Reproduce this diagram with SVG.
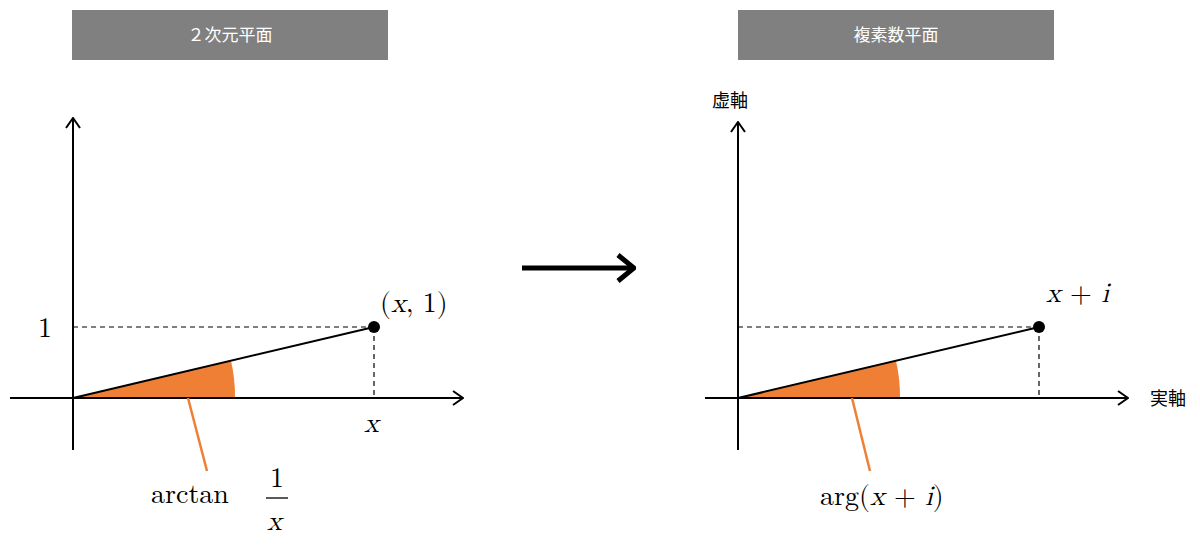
<svg xmlns="http://www.w3.org/2000/svg" width="1200" height="552" viewBox="0 0 1200 552">
<style>
.hdr{fill:#808080}
.ht{font-family:"Noto Sans CJK JP",sans-serif;font-size:17px;fill:#fff;text-anchor:middle}
.ax{stroke:#000;stroke-width:2;fill:none}
.ds{stroke:#000;stroke-width:1.2;stroke-dasharray:5,4;fill:none}
.m{font-family:"Latin Modern Math","DejaVu Serif","Liberation Serif",serif;font-size:28px;fill:#000}
.mi{font-style:italic}
.jp{font-family:"Noto Sans CJK JP",sans-serif;font-size:18px;fill:#000}
.wedge{fill:#ee7f35}
.lead{stroke:#ee7f35;stroke-width:2.5}
</style>
<defs>
<marker id="ar" viewBox="0 0 12 16" refX="11" refY="8" markerWidth="12" markerHeight="16" markerUnits="userSpaceOnUse" orient="auto">
<path d="M1,1 L11,8 L1,15" fill="none" stroke="#000" stroke-width="2"/>
</marker>
<marker id="bar" viewBox="0 0 20 30" refX="18" refY="15" markerWidth="20" markerHeight="30" markerUnits="userSpaceOnUse" orient="auto">
<path d="M2,2 L18,15 L2,28" fill="none" stroke="#000" stroke-width="5"/>
</marker>
</defs>
<g id="header-left"><rect class="hdr" x="72" y="10" width="316" height="50"/><text class="ht" x="230" y="41">２次元平面</text></g>
<g id="header-right"><rect class="hdr" x="738" y="10" width="316" height="50"/><text class="ht" x="896" y="41">複素数平面</text></g>
<g id="left-plane">
<path class="wedge" d="M73,398 L231,360.8 A162,162 0 0 1 235,398 Z"/>
<line class="ax" x1="73" y1="450" x2="73" y2="118" marker-end="url(#ar)"/>
<line class="ax" x1="10" y1="398" x2="463" y2="398" marker-end="url(#ar)"/>
<line class="ds" x1="73" y1="327" x2="374" y2="327"/>
<line class="ds" x1="374" y1="327" x2="374" y2="398"/>
<line class="ax" x1="73" y1="398" x2="374" y2="327"/>
<circle cx="374" cy="327" r="6"/>
<text class="m" x="38" y="337">1</text>
<text class="m" x="380" y="312">(<tspan class="mi">x</tspan>, 1)</text>
<text class="m mi" x="364" y="432">x</text>
<line class="lead" x1="188" y1="398" x2="207" y2="471"/>
<text class="m" x="151" y="503">arctan</text>
<text class="m" x="270" y="487">1</text>
<line x1="266" y1="498" x2="288" y2="498" stroke="#000" stroke-width="1.3"/>
<text class="m mi" x="267" y="530">x</text>
</g>
<g id="connectors"><line x1="522" y1="268" x2="634" y2="268" stroke="#000" stroke-width="5" marker-end="url(#bar)"/></g>
<g id="right-plane">
<path class="wedge" d="M738,398 L896,360.8 A162,162 0 0 1 900,398 Z"/>
<line class="ax" x1="738" y1="450" x2="738" y2="122" marker-end="url(#ar)"/>
<line class="ax" x1="705" y1="398" x2="1128" y2="398" marker-end="url(#ar)"/>
<line class="ds" x1="738" y1="327" x2="1039" y2="327"/>
<line class="ds" x1="1039" y1="327" x2="1039" y2="398"/>
<line class="ax" x1="738" y1="398" x2="1039" y2="327"/>
<circle cx="1039" cy="327" r="6"/>
<text class="jp" x="712" y="107">虚軸</text>
<text class="jp" x="1150" y="405">実軸</text>
<text class="m" x="1046" y="302"><tspan class="mi">x</tspan> + <tspan class="mi">i</tspan></text>
<line class="lead" x1="852" y1="398" x2="870" y2="471"/>
<text class="m" x="820" y="505">arg(<tspan class="mi">x</tspan> + <tspan class="mi">i</tspan>)</text>
</g>
</svg>
